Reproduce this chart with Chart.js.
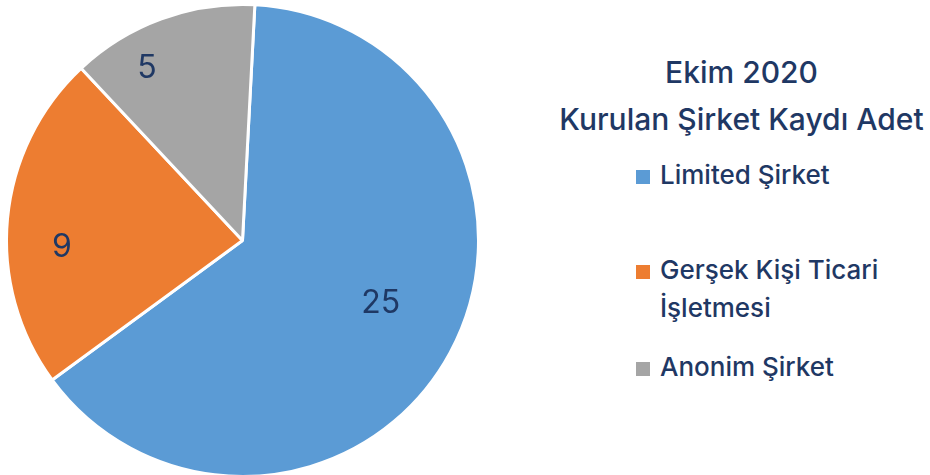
<!DOCTYPE html>
<html>
<head>
<meta charset="utf-8">
<script src="https://cdn.jsdelivr.net/npm/chart.js@4"></script>
<style>
  html, body { margin: 0; padding: 0; background: #fff; }
  body { width: 930px; height: 475px; position: relative; overflow: hidden; font-family: Inter, "Noto Sans", sans-serif; color: #1f3864; }
  #pieBox { position: absolute; left: 0; top: 0; width: 490px; height: 478px; }
  #side { position: absolute; left: 549px; top: 49px; width: 385px; font-weight: 500; }
  #side .title { text-align: center; font-size: 30px; line-height: 47px; white-space: nowrap; }
  #legend { list-style: none; margin: 13px 0 0 87px; padding: 0; font-size: 26px; line-height: 38px; }
  #legend li { display: flex; align-items: flex-start; white-space: nowrap; }
  #legend .box { width: 14px; height: 14px; flex: none; margin: 14px 10px 0 0; }
  #legend li.first { height: 95px; }
  #legend li.second { margin-bottom: 21px; }
</style>
</head>
<body>
<div id="pieBox"><canvas id="pie"></canvas></div>
<div id="side">
  <div class="title" id="title"></div>
  <ul id="legend"></ul>
</div>
<script>
// data
const categories = ['Limited Şirket', 'Gerşek Kişi Ticari İşletmesi', 'Anonim Şirket'];
const legendLines = [['Limited Şirket'], ['Gerşek Kişi Ticari', 'İşletmesi'], ['Anonim Şirket']];
const counts = [25, 9, 5];
const titleLines = ['Ekim 2020', 'Kurulan Şirket Kaydı Adet'];

const colors = ['#5b9bd5', '#ed7d31', '#a5a5a5'];
const textColor = '#1f3864';
// where each value label sits: share of the slice angle, share of the radius
const labelSpot = [[0.48, 0.64], [0.417, 0.765], [0.31, 0.84]];
const labelSize = 32;

// value labels drawn on the slices
const valueLabels = {
  id: 'valueLabels',
  afterDatasetsDraw(chart) {
    const ctx = chart.ctx;
    const meta = chart.getDatasetMeta(0);
    ctx.save();
    ctx.font = labelSize + 'px Inter, "Noto Sans", sans-serif';
    ctx.fillStyle = textColor;
    ctx.textAlign = 'center';
    ctx.textBaseline = 'alphabetic';
    meta.data.forEach((arc, i) => {
      const p = arc.getProps(['x', 'y', 'startAngle', 'endAngle', 'outerRadius'], true);
      const a = p.startAngle + (p.endAngle - p.startAngle) * labelSpot[i][0];
      const r = p.outerRadius * labelSpot[i][1];
      // centre the digits (cap height ~0.73em) on the spot
      ctx.fillText(String(counts[i]), p.x + Math.cos(a) * r, p.y + Math.sin(a) * r + labelSize * 0.36);
    });
    ctx.restore();
  }
};

new Chart(document.getElementById('pie'), {
  type: 'pie',
  data: {
    labels: categories,
    datasets: [{ data: counts, backgroundColor: colors, borderColor: '#fff', borderWidth: 3 }]
  },
  options: {
    responsive: true,
    maintainAspectRatio: false,
    animation: false,
    rotation: 3,
    layout: { padding: { left: 5, right: 10, top: 3, bottom: 0 } },
    plugins: { legend: { display: false }, tooltip: { enabled: false } }
  },
  plugins: [valueLabels]
});

// title + legend
document.getElementById('title').innerHTML = titleLines.map(t => `<div>${t}</div>`).join('');
const cls = ['first', 'second', ''];
document.getElementById('legend').innerHTML = legendLines.map((lines, i) =>
  `<li class="${cls[i]}"><span class="box" style="background:${colors[i]}"></span><span>${lines.join('<br>')}</span></li>`
).join('');
</script>
</body>
</html>
